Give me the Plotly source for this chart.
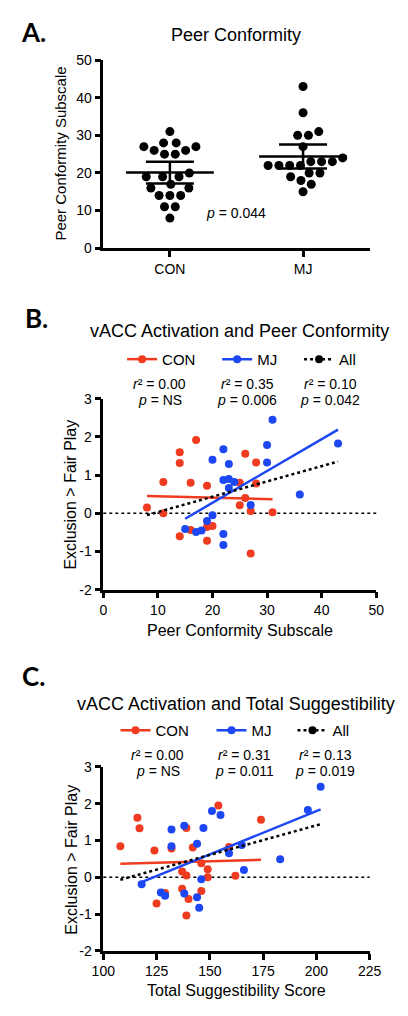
import numpy as np
import plotly.graph_objects as go

RED = "#EF3B1F"
BLUE = "#1D47F2"
FONT = "Liberation Sans, Arial, sans-serif"
W, H = 408, 1016

# ---------------- Panel A data ----------------
groups_a = ["CON", "MJ"]
con_peer = [31, 28, 28, 27, 27, 26, 26, 25, 25, 20, 19, 19, 19, 17, 16, 16, 14, 14, 14, 11, 11, 8]
mj_peer = [43, 36, 31, 30, 30, 27, 24, 23, 23, 23, 22, 22, 22, 22, 20, 20, 19, 18, 17, 15]
group_means = [20.1, 24.4]
err_plus = [2.9, 3.2]
err_minus = [2.9, 3.2]
a_ticks = [0, 10, 20, 30, 40, 50]

# ---------------- Panel B data ----------------
con_b_x = [8, 11, 11, 14, 14, 14, 16, 16, 17, 19, 19, 19, 20, 25, 25, 26, 26, 27, 27, 28, 28, 31]
con_b_y = [0.15, 0.82, 0.00, 1.60, 1.32, -0.60, 0.80, -0.44, 1.92, 0.72, -0.36, -0.72, -0.33,
           0.80, 0.21, 1.56, 0.40, 0.06, -1.05, 1.33, 0.78, 0.03]
mj_b_x = [15, 17, 18, 19, 20, 20, 22, 22, 22, 22, 23, 23, 23, 24, 27, 30, 30, 31, 36, 43]
mj_b_y = [-0.41, -0.49, -0.45, -0.20, 1.40, -0.05, 1.68, 0.87, -0.54, -0.83, 1.29, 0.90, 0.66,
          0.82, 0.22, 1.79, 1.33, 2.45, 0.49, 1.83]
b_xticks = [0, 10, 20, 30, 40, 50]

# ---------------- Panel C data ----------------
con_c_x = [108, 116, 117, 124, 125, 129, 132, 137, 137, 139, 139, 139, 140, 142, 146, 146, 149, 149,
           154, 159, 162, 174]
con_c_y = [0.84, 1.62, 1.33, 0.73, -0.71, -0.43, 0.78, 0.16, -0.31, 1.34, 0.05, -1.04, -0.59, 0.81,
           0.38, -0.37, 0.22, 0.00, 1.95, 0.82, 0.04, 1.56]
mj_c_x = [118, 127, 129, 132, 132, 138, 138, 144, 144, 145, 146, 147, 151, 155, 159, 165, 166, 183,
          196, 202]
mj_c_y = [-0.19, -0.41, -0.50, 1.30, 0.84, 1.40, -0.44, 0.91, -0.54, -0.83, -0.05, 1.34, 1.80, 1.69,
          0.65, 0.88, 0.20, 0.49, 1.83, 2.46]
c_xticks = [100, 125, 150, 175, 200, 225]

act_ticks = [-2, -1, 0, 1, 2, 3]
act_ticktext = ["-2", "-1", "0", "1", "2", "3"]

stats_b = [("0.00", "NS"), ("0.35", "0.006"), ("0.10", "0.042")]
stats_c = [("0.00", "NS"), ("0.31", "0.011"), ("0.13", "0.019")]
legend_names = ["CON", "MJ", "All"]


def swarm_offsets(values, y_px_per_unit, x_px_per_unit, diam):
    """Simple beeswarm: rows of equal values placed bottom-up, symmetric, avoiding overlaps."""
    vals = np.asarray(values, float)
    uniq = sorted(set(vals.tolist()))
    placed = np.zeros((0, 2))
    offs_all = np.zeros(len(vals))
    for v in uniq:
        idx = np.where(vals == v)[0]
        k = len(idx)
        ypx = v * y_px_per_unit
        best = None
        gs = np.arange(diam, 90, 0.5) if k > 1 else [0.0]
        for g in gs:
            for c in np.arange(-60, 60.25, 0.25):
                offs = c + (np.arange(k) - (k - 1) / 2) * g
                cost = np.max(np.abs(offs)) + 0.01 * abs(c) - 0.001 * np.sign(c)
                if best is not None and cost >= best[0]:
                    continue
                if len(placed):
                    d2 = (offs[:, None] - placed[None, :, 0]) ** 2 + (ypx - placed[None, :, 1]) ** 2
                    if np.any(d2 < diam ** 2 - 1e-9):
                        continue
                best = (cost, offs)
        offs = best[1]
        offs_all[idx] = offs
        placed = np.vstack([placed, np.column_stack([offs, np.full(k, ypx)])])
    return offs_all / x_px_per_unit


def fit_line(x, y):
    x = np.asarray(x, float)
    y = np.asarray(y, float)
    m, b = np.polyfit(x, y, 1)
    xs = np.array([x.min(), x.max()])
    return xs, m * xs + b


fig = go.Figure()

# ---------------- Panel A traces ----------------
a_y_px = (244 - 53) / 50.0
a_x_px = 142.0
for gi, vals in enumerate([con_peer, mj_peer]):
    offs = swarm_offsets(vals, a_y_px, a_x_px, 11.5)
    fig.add_trace(go.Scatter(
        x=gi + offs, y=vals, mode="markers",
        marker=dict(color="black", size=9),
        xaxis="x", yaxis="y", showlegend=False, hoverinfo="skip"))
fig.add_trace(go.Scatter(
    x=list(range(len(groups_a))), y=group_means, mode="markers",
    marker=dict(color="rgba(0,0,0,0)", size=1),
    error_x=dict(type="constant", value=0.33, width=0, thickness=2.5, color="black"),
    error_y=dict(type="data", array=err_plus, arrayminus=err_minus, symmetric=False,
                 width=24, thickness=2.5, color="black"),
    xaxis="x", yaxis="y", showlegend=False, hoverinfo="skip"))


def add_scatter_panel(xa, ya, cx, cy, mx, my, legend_ids):
    for xs, ys, col in [(cx, cy, RED), (mx, my, BLUE)]:
        fig.add_trace(go.Scatter(x=xs, y=ys, mode="markers",
                                 marker=dict(color=col, size=8),
                                 xaxis=xa, yaxis=ya, showlegend=False, hoverinfo="skip"))
    for xs, ys, col in [(cx, cy, RED), (mx, my, BLUE)]:
        lx, ly = fit_line(xs, ys)
        fig.add_trace(go.Scatter(x=lx, y=ly, mode="lines",
                                 line=dict(color=col, width=2.5),
                                 xaxis=xa, yaxis=ya, showlegend=False, hoverinfo="skip"))
    lx, ly = fit_line(list(cx) + list(mx), list(cy) + list(my))
    fig.add_trace(go.Scatter(x=lx, y=ly, mode="lines",
                             line=dict(color="black", width=2.5, dash="dot"),
                             xaxis=xa, yaxis=ya, showlegend=False, hoverinfo="skip"))
    for name, col, dash, lid in zip(legend_names, [RED, BLUE, "black"],
                                    ["solid", "solid", "dot"], legend_ids):
        fig.add_trace(go.Scatter(x=[None], y=[None], mode="lines+markers", name=name,
                                 line=dict(color=col, width=2.5, dash=dash),
                                 marker=dict(color=col, size=8),
                                 xaxis=xa, yaxis=ya, legend=lid, showlegend=True))


add_scatter_panel("x2", "y2", con_b_x, con_b_y, mj_b_x, mj_b_y, ["legend", "legend2", "legend3"])
add_scatter_panel("x3", "y3", con_c_x, con_c_y, mj_c_x, mj_c_y, ["legend4", "legend5", "legend6"])


def px_x(p):
    return p / W


def px_y(p):
    return 1 - p / H


axis_common = dict(showline=True, linecolor="black", linewidth=2.5, ticks="outside",
                   ticklen=6, tickwidth=2.5, tickcolor="black", showgrid=False,
                   zeroline=False, tickfont=dict(family=FONT, size=14, color="black"),
                   fixedrange=True)


def legend_at(x, y):
    return dict(orientation="h", x=px_x(x), y=px_y(y), xanchor="left", yanchor="middle",
                font=dict(family=FONT, size=15, color="black"), bgcolor="rgba(0,0,0,0)",
                itemwidth=30, borderwidth=0)


fig.update_layout(
    width=W, height=H, margin=dict(l=0, r=0, t=0, b=0),
    paper_bgcolor="white", plot_bgcolor="white",
    font=dict(family=FONT, color="black"),
    xaxis=dict(domain=[px_x(97), px_x(380)], range=[-0.5, 1.5], tickvals=[0, 1],
               ticktext=groups_a, anchor="y", **axis_common),
    yaxis=dict(domain=[px_y(244), px_y(53)], range=[0, 50], tickvals=a_ticks, anchor="x",
               **axis_common),
    xaxis2=dict(domain=[px_x(97), px_x(387)], range=[0, 50], tickvals=b_xticks, anchor="y2",
                **axis_common),
    yaxis2=dict(domain=[px_y(591), px_y(397)], range=[-2, 3], tickvals=act_ticks,
                ticktext=act_ticktext, anchor="x2", **axis_common),
    xaxis3=dict(domain=[px_x(97), px_x(380)], range=[100, 225], tickvals=c_xticks, anchor="y3",
                **axis_common),
    yaxis3=dict(domain=[px_y(958), px_y(771)], range=[-2, 3], tickvals=act_ticks,
                ticktext=act_ticktext, anchor="x3", **axis_common),
    legend=legend_at(117, 357),
    legend2=legend_at(218, 357),
    legend3=legend_at(305, 357),
    legend4=legend_at(110, 734),
    legend5=legend_at(212, 734),
    legend6=legend_at(298, 734),
)

# zero reference lines
for xr, yr in [("x2", "y2"), ("x3", "y3")]:
    fig.add_shape(type="line", xref=f"{xr} domain", x0=0, x1=1, yref=yr, y0=0, y1=0,
                  line=dict(color="black", width=1.5, dash="dot"), layer="below")

ann = []


def text(x, y, s, size, angle=0, family=FONT):
    ann.append(dict(x=px_x(x), y=px_y(y), xref="paper", yref="paper", text=s,
                    showarrow=False, textangle=angle, xanchor="center", yanchor="middle",
                    font=dict(family=family, size=size, color="black")))


# panel letters
text(23, 24, "<b>A.</b>", 26, family="Lato, Open Sans, sans-serif")
text(26, 315, "<b>B.</b>", 26, family="Lato, Open Sans, sans-serif")
text(23, 679, "<b>C.</b>", 26, family="Lato, Open Sans, sans-serif")

# titles
text(238, 27, "Peer Conformity", 18)
text(242, 328, "vACC Activation and Peer Conformity", 18)
text(238, 707, "vACC Activation and Total Suggestibility", 18)

# axis titles
text(52, 148, "Peer Conformity Subscale", 15, angle=-90)
text(62, 494, "Exclusion &gt; Fair Play", 16, angle=-90)
text(242, 632, "Peer Conformity Subscale", 16)
text(63, 865, "Exclusion &gt; Fair Play", 16, angle=-90)
text(238, 998, "Total Suggestibility Score", 16)

# p-value panel A
text(238, 208, "<i>p</i> = 0.044", 14)

# stats
for (r2, p), cxp in zip(stats_b, [157, 250, 338]):
    text(cxp, 382, f"<i>r</i>\u00b2 = {r2}", 14)
    text(cxp, 398, f"<i>p</i> = {p}", 14)
for (r2, p), cxp in zip(stats_c, [155, 247, 333]):
    text(cxp, 759, f"<i>r</i>\u00b2 = {r2}", 14)
    text(cxp, 775, f"<i>p</i> = {p}", 14)

fig.update_layout(annotations=ann)
fig.write_html("out.html", config={"displayModeBar": False},
               post_script="document.body.style.margin='0px';document.body.style.padding='0px';")
